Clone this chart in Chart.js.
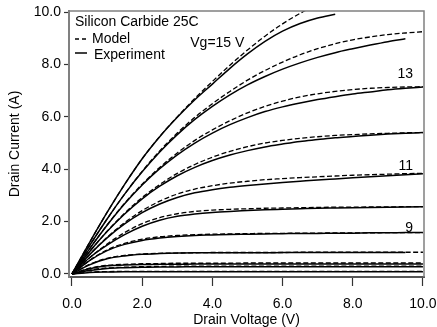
<!DOCTYPE html>
<html>
<head>
<meta charset="utf-8">
<script src="https://cdn.jsdelivr.net/npm/chart.js@4.4.1/dist/chart.umd.min.js"></script>
<style>
  body { margin: 0; background: #fff; }
  #wrap { width: 437px; height: 327px; }
</style>
</head>
<body>
<div id="wrap"><canvas id="iv"></canvas></div>
<script>
// drain voltage (V) sample points
var volts = [0, 0.5, 1, 1.5, 2, 2.5, 3, 3.5, 4, 4.5, 5, 5.5, 6, 6.5, 7, 7.5, 8, 8.5, 9, 9.5, 10];

// model (dashed) and experiment (solid) drain current (A), one pair per gate voltage
var model15 = [0, 1.2, 2.35, 3.42, 4.4, 5.25, 6.0, 6.7, 7.35, 7.97, 8.55, 9.08, 9.55, 9.95, 10.3, null, null, null, null, null, null];
var exp15   = [0, 1.2, 2.35, 3.42, 4.4, 5.24, 5.98, 6.65, 7.25, 7.85, 8.4, 8.88, 9.27, 9.56, 9.77, 9.92, null, null, null, null, null];
var model14 = [0, 1.08, 2.1, 3.05, 3.92, 4.7, 5.38, 5.98, 6.5, 6.97, 7.4, 7.77, 8.09, 8.37, 8.6, 8.79, 8.94, 9.05, 9.14, 9.2, 9.25];
var exp14   = [0, 1.08, 2.1, 3.05, 3.9, 4.66, 5.32, 5.9, 6.4, 6.84, 7.22, 7.54, 7.82, 8.06, 8.27, 8.45, 8.6, 8.74, 8.87, 8.98, null];
var model13 = [0, 0.96, 1.87, 2.7, 3.43, 4.07, 4.62, 5.1, 5.5, 5.85, 6.15, 6.4, 6.6, 6.76, 6.88, 6.97, 7.04, 7.09, 7.12, 7.14, 7.15];
var exp13   = [0, 0.96, 1.86, 2.68, 3.4, 4.02, 4.55, 5.0, 5.38, 5.7, 5.97, 6.2, 6.38, 6.53, 6.66, 6.77, 6.87, 6.95, 7.03, 7.09, 7.14];
var model12 = [0, 0.85, 1.63, 2.32, 2.92, 3.42, 3.84, 4.18, 4.46, 4.68, 4.86, 5.0, 5.1, 5.18, 5.24, 5.29, 5.32, 5.35, 5.37, 5.39, 5.4];
var exp12   = [0, 0.85, 1.62, 2.29, 2.87, 3.35, 3.75, 4.07, 4.33, 4.54, 4.71, 4.85, 4.96, 5.06, 5.13, 5.2, 5.25, 5.3, 5.34, 5.37, 5.4];
var model11 = [0, 0.74, 1.4, 1.96, 2.42, 2.78, 3.05, 3.24, 3.37, 3.47, 3.54, 3.6, 3.64, 3.68, 3.71, 3.74, 3.77, 3.79, 3.81, 3.83, 3.84];
var exp11   = [0, 0.74, 1.38, 1.91, 2.34, 2.67, 2.92, 3.1, 3.22, 3.31, 3.38, 3.44, 3.49, 3.54, 3.59, 3.63, 3.67, 3.71, 3.75, 3.79, 3.83];
var model10 = [0, 0.62, 1.14, 1.58, 1.92, 2.15, 2.3, 2.39, 2.44, 2.47, 2.49, 2.51, 2.52, 2.53, 2.54, 2.55, 2.55, 2.56, 2.56, 2.57, 2.57];
var exp10   = [0, 0.62, 1.1, 1.5, 1.82, 2.05, 2.2, 2.29, 2.35, 2.39, 2.42, 2.45, 2.47, 2.49, 2.51, 2.52, 2.53, 2.54, 2.55, 2.56, 2.57];
var model9  = [0, 0.52, 0.92, 1.17, 1.33, 1.42, 1.47, 1.5, 1.52, 1.53, 1.54, 1.55, 1.55, 1.56, 1.56, 1.57, 1.57, 1.57, 1.58, 1.58, 1.58];
var exp9    = [0, 0.51, 0.89, 1.13, 1.28, 1.37, 1.43, 1.47, 1.49, 1.51, 1.52, 1.53, 1.54, 1.55, 1.55, 1.56, 1.56, 1.57, 1.57, 1.58, 1.58];
var model8  = [0, 0.37, 0.6, 0.71, 0.76, 0.79, 0.8, 0.81, 0.82, 0.82, 0.82, 0.82, 0.82, 0.83, 0.83, 0.83, 0.83, 0.83, 0.83, 0.83, 0.83];
var exp8    = [0, 0.35, 0.58, 0.69, 0.75, 0.78, 0.8, 0.81, 0.81, 0.81, 0.81, 0.81, 0.82, 0.82, 0.82, 0.82, 0.82, 0.82, 0.82, 0.82, null];
var model7  = [0, 0.22, 0.33, 0.37, 0.39, 0.4, 0.41, 0.41, 0.41, 0.41, 0.42, 0.42, 0.42, 0.42, 0.42, 0.42, 0.42, 0.42, 0.42, 0.42, 0.42];
var exp7    = [0, 0.2, 0.31, 0.34, 0.36, 0.37, 0.37, 0.38, 0.38, 0.38, 0.38, 0.38, 0.38, 0.38, 0.38, 0.38, 0.38, 0.38, 0.38, 0.38, 0.38];
var model6  = [0, 0.15, 0.23, 0.26, 0.28, 0.29, 0.3, 0.3, 0.3, 0.3, 0.3, 0.3, 0.3, 0.3, 0.3, 0.3, 0.3, 0.3, 0.3, 0.3, 0.3];
var exp6    = [0, 0.13, 0.21, 0.24, 0.26, 0.27, 0.27, 0.28, 0.28, 0.28, 0.28, 0.28, 0.28, 0.28, 0.28, 0.28, 0.28, 0.28, 0.28, 0.28, 0.28];
var model5  = [0, 0.07, 0.09, 0.1, 0.1, 0.1, 0.1, 0.1, 0.1, 0.1, 0.1, 0.1, 0.1, 0.1, 0.1, 0.1, 0.1, 0.1, 0.1, 0.1, 0.1];
var exp5    = [0, 0.06, 0.08, 0.09, 0.09, 0.09, 0.09, 0.09, 0.09, 0.09, 0.09, 0.09, 0.09, 0.09, 0.09, 0.09, 0.09, 0.09, 0.09, 0.09, 0.09];

var gates = [15, 14, 13, 12, 11, 10, 9, 8, 7, 6, 5];
var modelSets = [model15, model14, model13, model12, model11, model10, model9, model8, model7, model6, model5];
var expSets = [exp15, exp14, exp13, exp12, exp11, exp10, exp9, exp8, exp7, exp6, exp5];

var xTicks = [0, 2, 4, 6, 8, 10];
var yTicks = [0, 2, 4, 6, 8, 10];

// curve labels, placed in data units
var noteText = ['Vg=15 V', '13', '11', '9'];
var noteV = [3.37, 9.72, 9.72, 9.72];
var noteI = [8.66, 7.48, 3.97, 1.6];

function pts(arr) {
  return volts.map(function(v, i) { return { x: v, y: arr[i] }; });
}

var datasets = [];
for (var g = 0; g < gates.length; g++) {
  datasets.push({
    label: 'Model ' + gates[g],
    data: pts(modelSets[g]),
    borderColor: '#000',
    borderWidth: 1.3,
    borderDash: [5, 2.5],
    pointRadius: 0,
    cubicInterpolationMode: 'monotone',
    spanGaps: false
  });
  datasets.push({
    label: 'Experiment ' + gates[g],
    data: pts(expSets[g]),
    borderColor: '#000',
    borderWidth: 1.5,
    pointRadius: 0,
    cubicInterpolationMode: 'monotone',
    spanGaps: false
  });
}

var frameAndText = {
  id: 'frameAndText',
  afterDraw: function(chart) {
    var ctx = chart.ctx;
    var a = chart.chartArea;
    var xs = chart.scales.x, ys = chart.scales.y;
    ctx.save();
    // grey box round the plot
    ctx.strokeStyle = '#808080';
    ctx.lineWidth = 1.5;
    ctx.beginPath();
    ctx.moveTo(a.left, a.top);
    ctx.lineTo(a.right, a.top);
    ctx.lineTo(a.right, a.bottom);
    ctx.stroke();

    ctx.fillStyle = '#000';
    ctx.font = '14px "Liberation Sans", Arial, sans-serif';
    ctx.textBaseline = 'alphabetic';
    ctx.textAlign = 'left';
    // legend block
    var lx = a.left + 6;
    ctx.fillText('Silicon Carbide 25C', lx, a.top + 15);
    ctx.strokeStyle = '#000';
    ctx.lineWidth = 1.3;
    ctx.setLineDash([4, 3]);
    ctx.beginPath();
    ctx.moveTo(lx, a.top + 28);
    ctx.lineTo(lx + 12, a.top + 28);
    ctx.stroke();
    ctx.setLineDash([]);
    ctx.fillText('Model', lx + 17, a.top + 32);
    ctx.lineWidth = 1.5;
    ctx.beginPath();
    ctx.moveTo(lx, a.top + 42);
    ctx.lineTo(lx + 12, a.top + 42);
    ctx.stroke();
    ctx.fillText('Experiment', lx + 19, a.top + 48);

    // curve labels
    for (var i = 0; i < noteText.length; i++) {
      ctx.textAlign = i === 0 ? 'left' : 'right';
      ctx.fillText(noteText[i], xs.getPixelForValue(noteV[i]), ys.getPixelForValue(noteI[i]));
    }
    ctx.restore();
  }
};

Chart.defaults.font.family = '"Liberation Sans", Arial, sans-serif';
Chart.defaults.font.size = 14;
Chart.defaults.color = '#000';

var chart = new Chart(document.getElementById('iv'), {
  type: 'line',
  data: { datasets: datasets },
  options: {
    responsive: true,
    maintainAspectRatio: false,
    animation: false,
    layout: { padding: { left: 0, right: 13, top: 11, bottom: 0 } },
    plugins: { legend: { display: false }, tooltip: { enabled: false } },
    scales: {
      x: {
        type: 'linear',
        min: -0.085,
        max: 10.03,
        afterBuildTicks: function(s) { s.ticks = xTicks.map(function(v) { return { value: v }; }); },
        afterFit: function(s) { s.height = 50; s.paddingLeft = 0; s.paddingRight = 0; },
        ticks: {
          padding: 10,
          maxRotation: 0,
          callback: function(v) { return Number(v).toFixed(1); }
        },
        grid: { drawOnChartArea: false, drawTicks: true, tickLength: 9, color: '#333', tickWidth: 1.2 },
        border: { display: true, color: '#555', width: 2 },
        title: { display: true, text: 'Drain Voltage (V)', font: { size: 14, lineHeight: 0.95 }, padding: { top: 0, bottom: 0 } }
      },
      y: {
        type: 'linear',
        min: -0.115,
        max: 10.04,
        afterBuildTicks: function(s) { s.ticks = yTicks.map(function(v) { return { value: v }; }); },
        afterFit: function(s) { s.width = 69; s.paddingTop = 0; s.paddingBottom = 0; },
        ticks: {
          padding: 3,
          callback: function(v) { return Number(v).toFixed(1); }
        },
        grid: { drawOnChartArea: false, drawTicks: true, tickLength: 5, color: '#333', tickWidth: 1.2 },
        border: { display: true, color: '#808080', width: 2 },
        title: { display: true, text: 'Drain Current (A)', padding: { top: 7, bottom: 0 } }
      }
    }
  },
  plugins: [frameAndText]
});
</script>
</body>
</html>
